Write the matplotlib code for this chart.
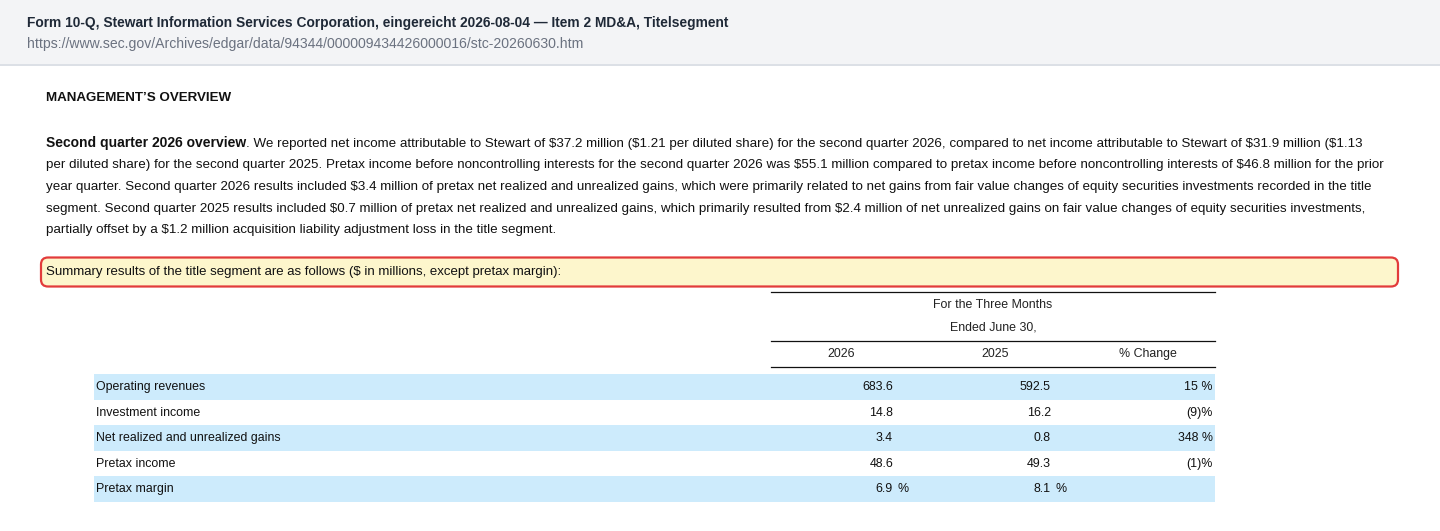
import matplotlib
matplotlib.use("Agg")
import matplotlib.pyplot as plt
from matplotlib.patches import Rectangle, FancyBboxPatch

plt.rcParams["text.parse_math"] = False

# texts of the page
doc_title = "Form 10-Q, Stewart Information Services Corporation, eingereicht 2026-08-04 — Item 2 MD&A, Titelsegment"
doc_url = "https://www.sec.gov/Archives/edgar/data/94344/000009434426000016/stc-20260630.htm"
section = "MANAGEMENT’S OVERVIEW"
lead = "Second quarter 2026 overview"
para_lines = [
    ". We reported net income attributable to Stewart of $37.2 million ($1.21 per diluted share) for the second quarter 2026, compared to net income attributable to Stewart of $31.9 million ($1.13",
    "per diluted share) for the second quarter 2025. Pretax income before noncontrolling interests for the second quarter 2026 was $55.1 million compared to pretax income before noncontrolling interests of $46.8 million for the prior",
    "year quarter. Second quarter 2026 results included $3.4 million of pretax net realized and unrealized gains, which were primarily related to net gains from fair value changes of equity securities investments recorded in the title",
    "segment. Second quarter 2025 results included $0.7 million of pretax net realized and unrealized gains, which primarily resulted from $2.4 million of net unrealized gains on fair value changes of equity securities investments,",
    "partially offset by a $1.2 million acquisition liability adjustment loss in the title segment.",
]
summary_note = "Summary results of the title segment are as follows ($ in millions, except pretax margin):"

# table data
col_group = ["For the Three Months", "Ended June 30,"]
col_heads = ["2026", "2025", "% Change"]
row_labels = ["Operating revenues", "Investment income", "Net realized and unrealized gains",
              "Pretax income", "Pretax margin"]
v2026 = [683.6, 14.8, 3.4, 48.6, 6.9]
v2025 = [592.5, 16.2, 0.8, 49.3, 8.1]
pct_change = [15, -9, 348, -1, None]
is_margin = [False, False, False, False, True]

W, H = 1440, 531
PX = 0.72  # pixel -> point at dpi 100
FONT = "Liberation Sans"

fig = plt.figure(figsize=(W / 100, H / 100), dpi=100)
ax = fig.add_axes([0, 0, 1, 1])
ax.set_xlim(0, W)
ax.set_ylim(H, 0)
ax.axis("off")

def txt(x, y, s, px, **kw):
    kw.setdefault("va", "center")
    kw.setdefault("family", FONT)
    return ax.text(x, y, s, fontsize=px * PX, **kw)

# header strip
ax.add_patch(Rectangle((0, 0), W, 64, facecolor="#f3f4f6", edgecolor="none"))
ax.plot([0, W], [64.5, 64.5], color="#d5dae1", lw=1.2)
txt(27, 23, doc_title, 13.8, color="#1f2937", weight="bold")
txt(27, 44, doc_url, 14.0, color="#6b7280")

# section heading + paragraph
txt(46, 98, section, 13.4, color="#111111", weight="bold")

fig.canvas.draw()
renderer = fig.canvas.get_renderer()
line_y0, line_step = 146.5, 21.7
b = txt(46, line_y0, lead, 13.9, color="#111111", weight="bold", va="baseline")
bb = b.get_window_extent(renderer)
x_end = ax.transData.inverted().transform((bb.x1, bb.y0))[0]
for i, line in enumerate(para_lines):
    x = x_end if i == 0 else 46
    txt(x, line_y0 + i * line_step, line, 13.4, color="#111111", va="baseline")

# highlighted note
ax.add_patch(FancyBboxPatch((41, 257.5), 1357, 29, boxstyle="round,pad=0,rounding_size=7",
                            facecolor="#fdf6cc", edgecolor="#e23b3b", lw=1.6))
txt(46, 272.5, summary_note, 13.3, color="#111111")

# table
tx0, tx1 = 771, 1215
for yl in (291.5, 340.5, 367):
    ax.plot([tx0, tx1], [yl, yl], color="#111111", lw=0.9)
txt(993, 305, col_group[0], 12.4, ha="center", color="#222222")
txt(993, 327, col_group[1], 12.4, ha="center", color="#222222")
head_x = [841, 995, 1148]
for hx, h in zip(head_x, col_heads):
    txt(hx, 354, h, 12.4, ha="center", color="#222222")

row_y0, row_h = 387, 25.6
right_edges = [893, 1051, 1213]
for i, lab in enumerate(row_labels):
    yc = row_y0 + i * row_h
    if i % 2 == 0:
        ax.add_patch(Rectangle((94, yc - 13), tx1 - 94, 25.6,
                               facecolor="#cdebfc", edgecolor="none"))
    txt(96, yc, lab, 12.4, color="#111111")
    for j, val in enumerate((v2026[i], v2025[i])):
        txt(right_edges[j], yc, f"{val:.1f}", 12.4, ha="right", color="#111111")
        if is_margin[i]:
            txt(right_edges[j] + 4.5, yc, "%", 12.4, ha="left", color="#111111")
    c = pct_change[i]
    if c is not None:
        s = f"{c} %" if c >= 0 else f"({-c})%"
        txt(right_edges[2], yc, s, 12.4, ha="right", color="#111111")

fig.savefig("out.png", dpi=100)
